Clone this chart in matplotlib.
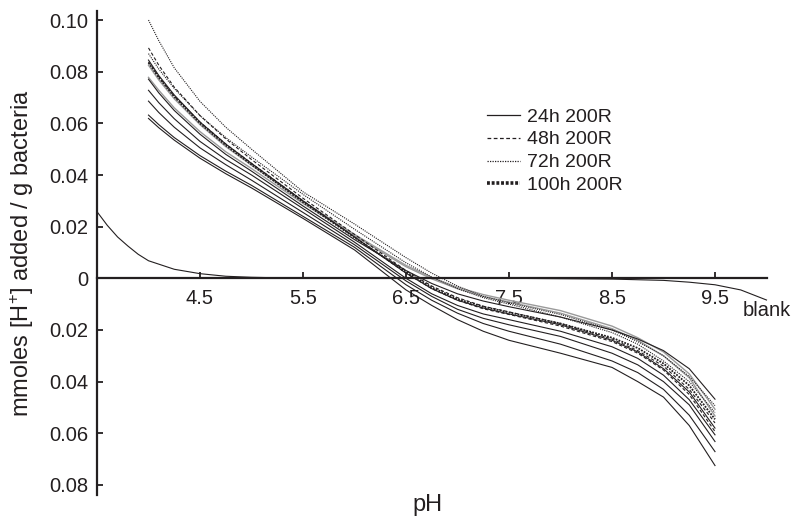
import matplotlib
matplotlib.use("Agg")
import matplotlib.pyplot as plt
from matplotlib.lines import Line2D

plt.rcParams["font.family"] = ["Liberation Sans", "DejaVu Sans"]
plt.rcParams["mathtext.fontset"] = "custom"
plt.rcParams["mathtext.rm"] = "Liberation Sans"
plt.rcParams["mathtext.it"] = "Liberation Sans"

ink = "#231f20"

# pH values where the titration curves were read
ph = [4.0, 4.1, 4.25, 4.5, 4.75, 5.0, 5.5, 6.0, 6.5, 6.75, 7.0, 7.25, 7.5, 8.0, 8.5, 8.75, 9.0, 9.25, 9.5]

# 24h 200R (solid)
h24 = [
    [0.0845, 0.0785, 0.0710, 0.0605, 0.0520, 0.0445, 0.0300, 0.0160,
     0.0020, -0.0040, -0.0085, -0.0115, -0.0138, -0.0180, -0.0240, -0.0285, -0.0350, -0.0440, -0.0580],
    [0.0771, 0.0718, 0.0650, 0.0558, 0.0480, 0.0415, 0.0280, 0.0150,
     0.0030, -0.0020, -0.0060, -0.0088, -0.0110, -0.0150, -0.0200, -0.0235, -0.0280, -0.0350, -0.0468],
    [0.0728, 0.0680, 0.0618, 0.0530, 0.0460, 0.0400, 0.0270, 0.0140,
     0.0000, -0.0060, -0.0105, -0.0138, -0.0160, -0.0205, -0.0265, -0.0310, -0.0375, -0.0470, -0.0606],
    [0.0686, 0.0642, 0.0585, 0.0505, 0.0440, 0.0380, 0.0255, 0.0130,
     -0.0010, -0.0070, -0.0120, -0.0155, -0.0180, -0.0225, -0.0290, -0.0335, -0.0400, -0.0490, -0.0632],
    [0.0632, 0.0595, 0.0545, 0.0475, 0.0415, 0.0360, 0.0240, 0.0120,
     -0.0025, -0.0085, -0.0135, -0.0175, -0.0205, -0.0255, -0.0320, -0.0365, -0.0430, -0.0530, -0.0671],
    [0.0619, 0.0583, 0.0535, 0.0465, 0.0405, 0.0350, 0.0232, 0.0110,
     -0.0045, -0.0105, -0.0160, -0.0205, -0.0240, -0.0290, -0.0345, -0.0400, -0.0460, -0.0570, -0.0725],
]
# 48h 200R (dashed)
h48 = [
    [0.0892, 0.0825, 0.0740, 0.0630, 0.0540, 0.0460, 0.0310, 0.0170,
     0.0030, -0.0030, -0.0075, -0.0108, -0.0130, -0.0175, -0.0235, -0.0280, -0.0340, -0.0430, -0.0560],
    [0.0838, 0.0780, 0.0705, 0.0605, 0.0520, 0.0445, 0.0300, 0.0160,
     0.0020, -0.0040, -0.0085, -0.0118, -0.0140, -0.0185, -0.0245, -0.0290, -0.0355, -0.0450, -0.0593],
]
# 72h 200R (dotted)
h72 = [
    [0.1000, 0.0920, 0.0815, 0.0685, 0.0585, 0.0500, 0.0335, 0.0210,
     0.0080, 0.0020, -0.0030, -0.0070, -0.0095, -0.0140, -0.0200, -0.0245, -0.0300, -0.0380, -0.0493],
    [0.0870, 0.0810, 0.0735, 0.0630, 0.0545, 0.0470, 0.0325, 0.0190,
     0.0060, 0.0005, -0.0040, -0.0075, -0.0100, -0.0150, -0.0210, -0.0255, -0.0320, -0.0400, -0.0520],
]
# 100h 200R
h100 = [
    [0.0835, 0.0777, 0.0703, 0.0600, 0.0515, 0.0440, 0.0295, 0.0158,
     0.0025, -0.0035, -0.0080, -0.0110, -0.0132, -0.0175, -0.0230, -0.0270, -0.0330, -0.0415, -0.0546],
]
# grey replicate curves
grey = [
    [0.0825, 0.0768, 0.0695, 0.0595, 0.0510, 0.0438, 0.0298, 0.0170,
     0.0050, 0.0003, -0.0035, -0.0063, -0.0085, -0.0125, -0.0185, -0.0230, -0.0285, -0.0370, -0.0507],
    [0.0778, 0.0728, 0.0660, 0.0568, 0.0490, 0.0425, 0.0290, 0.0165,
     0.0045, -0.0002, -0.0040, -0.0070, -0.0092, -0.0135, -0.0195, -0.0240, -0.0300, -0.0385, -0.0533],
]

# blank titration
ph_blank = [3.5, 3.6, 3.7, 3.8, 3.9, 4.0, 4.25, 4.5, 4.75, 5.0, 5.5, 6.5, 7.5, 8.5, 9.0, 9.25, 9.5, 9.75, 10.0]
blank = [0.0258, 0.0205, 0.0160, 0.0125, 0.0093, 0.0068, 0.0035, 0.0018, 0.0008, 0.0004, 0.0, 0.0, 0.0,
         -0.0003, -0.0008, -0.0015, -0.0025, -0.0045, -0.0084]

xticks = [4.5, 5.5, 6.5, 7.5, 8.5, 9.5]
yticks = [0.10, 0.08, 0.06, 0.04, 0.02, 0, -0.02, -0.04, -0.06, -0.08]
ytick_labels = ["0.10", "0.08", "0.06", "0.04", "0.02", "0", "0.02", "0.04", "0.06", "0.08"]
legend_labels = ["24h 200R", "48h 200R", "72h 200R", "100h 200R"]

fig = plt.figure(figsize=(7.98, 5.24), dpi=100)
ax = fig.add_axes([97 / 798, 1 - 495 / 524, (766.5 - 97) / 798, (495 - 11) / 524])

for c in grey:
    ax.plot(ph, c, color="#9a9a9a", lw=1.0)
for c in h24:
    ax.plot(ph, c, color=ink, lw=0.8)
for c in h48:
    ax.plot(ph, c, color=ink, lw=0.8, dashes=(3, 2))
for c in h72:
    ax.plot(ph, c, color=ink, lw=0.8, dashes=(1, 1))
for c in h100:
    ax.plot(ph, c, color=ink, lw=1.3, dashes=(1, 0.7))
ax.plot(ph_blank, blank, color=ink, lw=0.8, clip_on=False)

ax.set_xlim(3.5, 10.0)
ax.set_ylim(-0.0839, 0.1035)

ax.spines["top"].set_visible(False)
ax.spines["right"].set_visible(False)
ax.spines["bottom"].set_position(("data", 0))
for s in ["left", "bottom"]:
    ax.spines[s].set_linewidth(1.6)
    ax.spines[s].set_color(ink)

ax.set_xticks(xticks)
ax.set_xticklabels([str(t) for t in xticks])
ax.set_yticks(yticks)
ax.set_yticklabels(ytick_labels)
ax.tick_params(axis="both", direction="in", length=4, width=1.3, color=ink,
               labelsize=14.5, labelcolor=ink)
ax.tick_params(axis="x", pad=8)
ax.tick_params(axis="y", pad=6)

ax.text(10.0, -0.0123, "blank", ha="center", va="center", fontsize=14.5, color=ink, clip_on=False)

fig.text(428 / 798, 1 - 505 / 524, "pH", ha="center", va="center", fontsize=17, color=ink)
fig.text(22 / 798, 1 - 253 / 524, r"mmoles [H$^{+}$] added / g bacteria", rotation=90,
         ha="center", va="center", fontsize=17, color=ink)

handles = [
    Line2D([], [], color=ink, lw=0.9),
    Line2D([], [], color=ink, lw=0.9, dashes=(3, 2)),
    Line2D([], [], color=ink, lw=0.9, dashes=(1, 1)),
    Line2D([], [], color=ink, lw=2.6, dashes=(0.8, 0.5)),
]
leg = ax.legend(handles, legend_labels, loc="upper left", bbox_to_anchor=(487 / 798, 1 - 108 / 524),
                bbox_transform=fig.transFigure, frameon=False, fontsize=14, borderpad=0,
                borderaxespad=0, handlelength=1.7, handletextpad=0.35, labelspacing=0.27)
for t in leg.get_texts():
    t.set_color(ink)

fig.savefig("out.png", dpi=100)
